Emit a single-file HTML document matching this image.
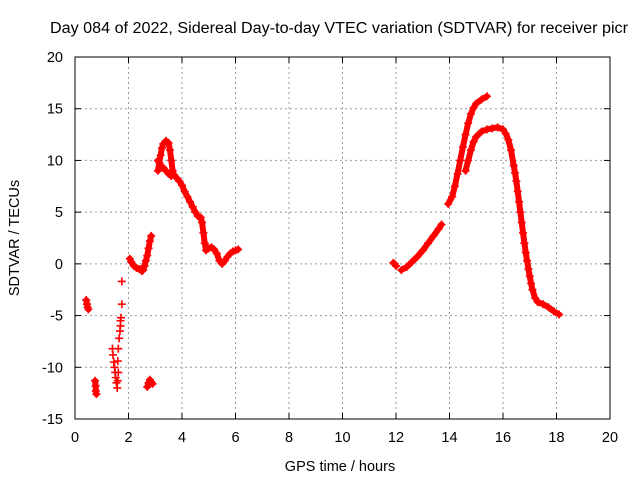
<!DOCTYPE html>
<html><head><meta charset="utf-8"><style>
body{margin:0;background:#fff;}
svg{display:block;font-family:"Liberation Sans",sans-serif;}
</style></head><body>
<svg id="chart" width="640" height="480">
<text x="50" y="33" font-size="15.5" textLength="578" lengthAdjust="spacingAndGlyphs">Day 084 of 2022, Sidereal Day-to-day VTEC variation (SDTVAR) for receiver picr</text>
<text x="340" y="471" font-size="14.5" text-anchor="middle">GPS time / hours</text>
<text transform="translate(19,238) rotate(-90)" font-size="14.5" text-anchor="middle">SDTVAR / TECUs</text>
<g id="grid"></g><g id="ticks"></g><g id="marks"></g>
<rect x="75" y="57" width="535" height="362" fill="none" stroke="#000" stroke-width="1"/>
</svg>
<script>
const xTicks=[0,2,4,6,8,10,12,14,16,18,20];
const yTicks=[-15,-10,-5,0,5,10,15,20];
const segA=[[0.42,-3.5],[0.45,-3.9],[0.47,-4.2],[0.5,-4.4]];
const segB=[[0.75,-11.3],[0.77,-11.8],[0.78,-12.3],[0.8,-12.6]];
const segC=[[1.4,-8.2],[1.42,-8.8],[1.45,-9.5],[1.48,-10],[1.5,-10.5],[1.52,-11],[1.55,-11.5],[1.58,-12],[1.6,-11.3],[1.62,-10.5],[1.6,-9.4],[1.62,-8.2],[1.65,-7.2],[1.68,-6.5],[1.7,-6],[1.7,-5.5],[1.72,-5.2]];
const segC2=[[1.75,-3.9],[1.75,-1.7]];
const segD=[[2.05,0.5],[2.1,0.2],[2.2,-0.2],[2.3,-0.4],[2.4,-0.5],[2.5,-0.7],[2.55,-0.6],[2.6,-0.2],[2.65,0.3],[2.7,0.8],[2.75,1.5],[2.8,2.2],[2.85,2.7]];
const segE=[[2.7,-11.9],[2.75,-11.5],[2.8,-11.2],[2.85,-11.4],[2.9,-11.6]];
const segF=[[3.1,9],[3.15,9.8],[3.2,10.5],[3.25,11.2],[3.3,11.6],[3.4,11.9],[3.5,11.7],[3.55,11],[3.6,10],[3.65,9],[3.7,8.6],[3.8,8.3],[3.9,8],[4.0,7.6],[4.1,7],[4.2,6.5],[4.3,6],[4.4,5.5],[4.5,5],[4.6,4.6],[4.7,4.5],[4.75,4],[4.8,3],[4.85,2],[4.9,1.3],[5.0,1.5],[5.1,1.6],[5.2,1.4],[5.3,1],[5.4,0.3],[5.5,0],[5.6,0.3],[5.7,0.7],[5.8,1],[5.9,1.2],[6.0,1.3],[6.1,1.4]];
const segF2=[[3.1,10],[3.2,9.5],[3.3,9.3],[3.4,9],[3.5,8.7],[3.6,8.5]];
const segG=[[11.9,0.1],[11.95,0],[12.0,-0.2]];
const segH=[[12.2,-0.6],[12.4,-0.3],[12.6,0.2],[12.8,0.7],[13.0,1.3],[13.2,2],[13.4,2.7],[13.6,3.4],[13.7,3.8]];
const segI=[[13.95,5.8],[14.1,6.5],[14.2,7.5],[14.3,8.7],[14.4,10],[14.5,11.3],[14.6,12.5],[14.7,13.6],[14.8,14.5],[14.9,15.1],[15.0,15.5],[15.2,15.9],[15.4,16.2]];
const segJ=[[14.6,9],[14.7,10],[14.8,11],[14.9,11.8],[15.0,12.3],[15.2,12.8],[15.4,13],[15.6,13.1],[15.8,13.2],[16.0,13],[16.1,12.6],[16.2,12],[16.3,11],[16.4,9.5],[16.45,8.8],[16.5,8],[16.55,7],[16.6,6],[16.65,5],[16.7,4],[16.75,3],[16.8,2],[16.85,1.1],[16.9,0.3],[16.95,-0.5],[17.0,-1.2],[17.05,-1.9],[17.1,-2.5],[17.2,-3.3],[17.3,-3.7],[17.5,-3.9],[17.7,-4.2],[17.9,-4.6],[18.1,-4.9]];
const lineSeries=[segA,segB,segD,segE,segF,segF2,segG,segH,segI,segJ];
const scatterSeries=[segC,segC2];
const NS='http://www.w3.org/2000/svg';
const X0=75,X1=610,Y0=419,Y1=57;
const xs=h=>X0+(h-0)/20*(X1-X0);
const ys=v=>Y0-(v+15)/35*(Y0-Y1);
const grid=document.getElementById('grid'),ticks=document.getElementById('ticks'),marks=document.getElementById('marks');
function mk(tag,attrs,parent){const e=document.createElementNS(NS,tag);for(const k in attrs)e.setAttribute(k,attrs[k]);parent.appendChild(e);return e;}
xTicks.forEach(t=>{const x=xs(t);
 if(t>0&&t<20){const g=mk('line',{x1:x,x2:x,y1:Y1,y2:Y0,stroke:'#999','stroke-dasharray':'2,3'},grid);
 
 }
 const tl=mk('text',{x:x,y:Y0+23,'font-size':'14.5','text-anchor':'middle'},ticks);tl.textContent=t;
 
 
 mk('line',{x1:x,x2:x,y1:Y0,y2:Y0-6,stroke:'#000'},ticks);mk('line',{x1:x,x2:x,y1:Y1,y2:Y1+6,stroke:'#000'},ticks);});
yTicks.forEach(t=>{const y=ys(t);
 if(t>-15&&t<20){const g=mk('line',{x1:X0,x2:X1,y1:y,y2:y,stroke:'#999','stroke-dasharray':'2,3'},grid);
 
 }
 const tl=mk('text',{x:X0-12,y:y+5,'font-size':'14.5','text-anchor':'end'},ticks);tl.textContent=t;
 
 
 mk('line',{x1:X0,x2:X0+6,y1:y,y2:y,stroke:'#000'},ticks);mk('line',{x1:X1,x2:X1-6,y1:y,y2:y,stroke:'#000'},ticks);});
function drawMarks(s){s.forEach(d=>{const x=xs(d[0]),y=ys(d[1]);
  const m=mk('path',{d:`M${x-4},${y}h8M${x},${y-4}v8`,stroke:'#f00','stroke-width':1.6},marks);
  
  });}
lineSeries.forEach(s=>{
 const p=mk('polyline',{points:s.map(d=>xs(d[0])+','+ys(d[1])).join(' '),fill:'none',stroke:'#f00','stroke-width':6,'stroke-linejoin':'round','stroke-linecap':'round'},marks);
 
 
 drawMarks(s);
});
scatterSeries.forEach(s=>drawMarks(s));
</script>
</body></html>
